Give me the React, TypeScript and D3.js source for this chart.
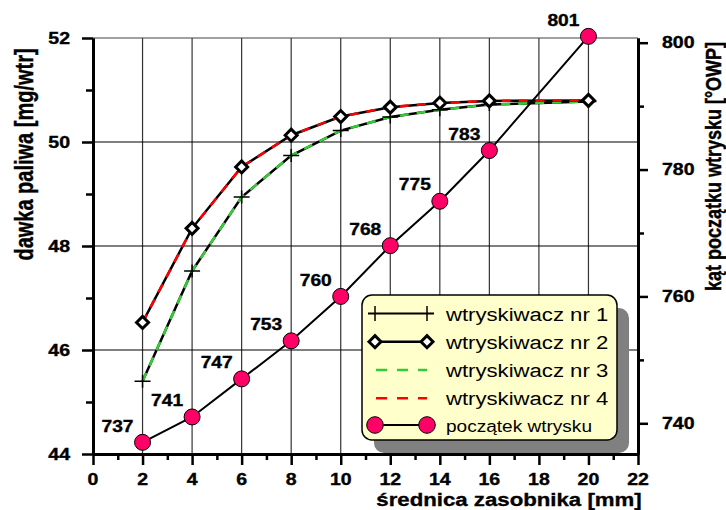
import React, { useEffect, useRef } from "react";
import * as d3 from "d3";

// średnica zasobnika [mm]
const diameters = [2, 4, 6, 8, 10, 12, 14, 16, 20];
// dawka paliwa [mg/wtr]
const injector1 = [45.4, 47.52, 48.94, 49.74, 50.22, 50.48, 50.62, 50.72, 50.78];
const injector2 = [46.53, 48.34, 49.52, 50.13, 50.49, 50.67, 50.75, 50.79, 50.8];
const injector3 = [45.4, 47.52, 48.94, 49.74, 50.22, 50.48, 50.62, 50.72, 50.78];
const injector4 = [46.53, 48.34, 49.52, 50.13, 50.49, 50.67, 50.75, 50.79, 50.8];
// kąt początku wtrysku [°OWP]
const startAngle = [737, 741, 747, 753, 760, 768, 775, 783, 801];

const xTicks = d3.range(0, 23, 2);
const xMinor = d3.range(1, 22, 2);
const yLeftTicks = [44, 46, 48, 50, 52];
const yLeftMinor = [45, 47, 49, 51];
const yRightTicks = [740, 760, 780, 800];
const yRightMinor = [750, 770, 790];

const legendLabels = [
  "wtryskiwacz nr 1",
  "wtryskiwacz nr 2",
  "wtryskiwacz nr 3",
  "wtryskiwacz nr 4",
  "początek wtrysku",
];

const FONT = "Arial, 'Liberation Sans', sans-serif";

export default function App() {
  const svgRef = useRef<SVGSVGElement>(null);

  useEffect(() => {
    const svg = d3.select(svgRef.current);
    svg.selectChildren().remove();

    const x = d3.scaleLinear().domain([0, 22]).range([93, 638]);
    const yL = d3.scaleLinear().domain([44, 52]).range([454, 38]);
    const yR = d3.scaleLinear().domain([740, 800]).range([423.3, 42.7]);

    // stretched text, the original renders glyphs wider than they are tall
    const stext = (
      g: any,
      tx: number,
      ty: number,
      str: string,
      size: number,
      sx: number,
      anchor: string,
      weight = "bold",
      rot = false
    ) =>
      g
        .append("text")
        .attr(
          "transform",
          `translate(${tx},${ty}) scale(${sx},1)` + (rot ? " rotate(-90)" : "")
        )
        .attr("text-anchor", anchor)
        .attr("font-family", FONT)
        .attr("font-size", size)
        .attr("font-weight", weight)
        .attr("fill", "#000")
        .attr("stroke", weight === "bold" ? "#000" : "none")
        .attr("stroke-width", 0.35)
        .text(str);

    svg.append("rect").attr("width", 726).attr("height", 510).attr("fill", "#fff");

    // grid
    const grid = svg.append("g");
    grid
      .selectAll("line.v")
      .data(d3.range(2, 21, 2))
      .enter()
      .append("line")
      .attr("x1", (d) => x(d))
      .attr("x2", (d) => x(d))
      .attr("y1", yL(52))
      .attr("y2", yL(44))
      .attr("stroke", "#333")
      .attr("stroke-width", 1.2);
    grid
      .selectAll("line.h")
      .data([46, 48, 50, 52])
      .enter()
      .append("line")
      .attr("x1", x(0))
      .attr("x2", x(22))
      .attr("y1", (d) => yL(d))
      .attr("y2", (d) => yL(d))
      .attr("stroke", (d) => (d === 52 ? "#444" : "#000"))
      .attr("stroke-width", 1.2);

    // axes
    const axisStyle = (g: any, w: number) => {
      g.select(".domain").attr("stroke", "#000").attr("stroke-width", w);
      g.selectAll(".tick line").attr("stroke", "#000").attr("stroke-width", 2.5);
      g.selectAll(".tick text").remove();
    };

    svg
      .append("g")
      .attr("transform", `translate(0,${yL(44)})`)
      .call(d3.axisBottom(x).tickValues(xMinor).tickSize(6).tickSizeOuter(0).tickFormat(() => ""))
      .call((g: any) => axisStyle(g, 3));
    svg
      .append("g")
      .attr("transform", `translate(0,${yL(44)})`)
      .call(d3.axisBottom(x).tickValues(xTicks).tickSize(11).tickSizeOuter(0).tickFormat(() => ""))
      .call((g: any) => axisStyle(g, 3));

    svg
      .append("g")
      .attr("transform", `translate(${x(0)},0)`)
      .call(d3.axisLeft(yL).tickValues(yLeftMinor).tickSize(7).tickSizeOuter(0).tickFormat(() => ""))
      .call((g: any) => axisStyle(g, 3));
    svg
      .append("g")
      .attr("transform", `translate(${x(0)},0)`)
      .call(d3.axisLeft(yL).tickValues(yLeftTicks).tickSize(11).tickSizeOuter(0).tickFormat(() => ""))
      .call((g: any) => axisStyle(g, 3));

    const yRfull = yR.copy().domain([yR.invert(454), yR.invert(38)]).range([454, 38]);
    svg
      .append("g")
      .attr("transform", `translate(${x(22)},0)`)
      .call(d3.axisRight(yRfull).tickValues(yRightMinor).tickSize(6).tickSizeOuter(0).tickFormat(() => ""))
      .call((g: any) => axisStyle(g, 3));
    svg
      .append("g")
      .attr("transform", `translate(${x(22)},0)`)
      .call(d3.axisRight(yRfull).tickValues(yRightTicks).tickSize(10).tickSizeOuter(0).tickFormat(() => ""))
      .call((g: any) => axisStyle(g, 3));

    // tick labels
    xTicks.forEach((t) => stext(svg, x(t), 485, String(t), 16, 1.22, "middle"));
    yLeftTicks.forEach((t) => stext(svg, 70, yL(t) + 5.7, String(t), 16, 1.22, "end"));
    yRightTicks.forEach((t) => stext(svg, 662, yR(t) + 5.7, String(t), 16, 1.22, "start"));

    // titles
    stext(svg, 33, 154.5, "dawka paliwa [mg/wtr]", 20, 1.25, "middle", "bold", true);
    stext(svg, 721, 166.5, "kąt początku wtrysku [°OWP]", 18, 1.25, "middle", "bold", true);
    stext(svg, 509, 506, "średnica zasobnika [mm]", 19, 1.17, "middle");

    // series
    const lineL = (vals: number[]) =>
      d3
        .line<number>()
        .x((_, i) => x(diameters[i]))
        .y((d) => yL(d))(vals);

    const plot = svg.append("g");

    plot
      .append("path")
      .attr("d", lineL(injector1))
      .attr("fill", "none")
      .attr("stroke", "#000")
      .attr("stroke-width", 2.5);
    plot
      .append("path")
      .attr("d", lineL(injector3))
      .attr("fill", "none")
      .attr("stroke", "#33cc33")
      .attr("stroke-width", 2.5)
      .attr("stroke-dasharray", "9,8");
    plot
      .selectAll("path.plus")
      .data(injector1)
      .enter()
      .append("path")
      .attr(
        "d",
        (d, i) =>
          `M${x(diameters[i]) - 8},${yL(d)}h16M${x(diameters[i])},${yL(d) - 6.5}v13`
      )
      .attr("stroke", "#000")
      .attr("stroke-width", 1.5);

    plot
      .append("path")
      .attr("d", lineL(injector2))
      .attr("fill", "none")
      .attr("stroke", "#000")
      .attr("stroke-width", 2.5);
    plot
      .append("path")
      .attr("d", lineL(injector4))
      .attr("fill", "none")
      .attr("stroke", "#ff0000")
      .attr("stroke-width", 2.5)
      .attr("stroke-dasharray", "9,8");
    plot
      .selectAll("path.diamond")
      .data(injector2)
      .enter()
      .append("path")
      .attr("d", (d, i) => {
        const cx = x(diameters[i]),
          cy = yL(d);
        return `M${cx - 6},${cy}L${cx},${cy - 6}L${cx + 6},${cy}L${cx},${cy + 6}Z`;
      })
      .attr("fill", "#fff")
      .attr("stroke", "#000")
      .attr("stroke-width", 3);

    // początek wtrysku
    plot
      .append("path")
      .attr(
        "d",
        d3
          .line<number>()
          .x((_, i) => x(diameters[i]))
          .y((d) => yR(d))(startAngle)
      )
      .attr("fill", "none")
      .attr("stroke", "#000")
      .attr("stroke-width", 2);
    plot
      .selectAll("circle")
      .data(startAngle)
      .enter()
      .append("circle")
      .attr("cx", (_, i) => x(diameters[i]))
      .attr("cy", (d) => yR(d))
      .attr("r", 8)
      .attr("fill", "#ff0066")
      .attr("stroke", "#000")
      .attr("stroke-width", 1);
    startAngle.forEach((v, i) =>
      stext(plot, x(diameters[i]) - 25, yR(v) - 16.5 + 5.7, String(v), 16, 1.2, "middle")
    );

    // legend
    const lg = svg.append("g");
    lg.append("rect")
      .attr("x", 374)
      .attr("y", 308)
      .attr("width", 255)
      .attr("height", 145)
      .attr("rx", 10)
      .attr("fill", "#808080");
    lg.append("rect")
      .attr("x", 362)
      .attr("y", 295)
      .attr("width", 255)
      .attr("height", 145)
      .attr("rx", 10)
      .attr("fill", "#ffffcc")
      .attr("stroke", "#000")
      .attr("stroke-width", 1.5);

    const rows = [313.5, 341.7, 370, 398.2, 425];
    const lx1 = 375,
      lx2 = 427;

    // row 1
    lg.append("line")
      .attr("x1", 368).attr("x2", 434)
      .attr("y1", rows[0]).attr("y2", rows[0])
      .attr("stroke", "#000").attr("stroke-width", 2);
    [lx1, lx2].forEach((cx) =>
      lg.append("path")
        .attr("d", `M${cx},${rows[0] - 7.5}v15`)
        .attr("stroke", "#000").attr("stroke-width", 1.5)
    );
    // row 2
    lg.append("line")
      .attr("x1", lx1).attr("x2", lx2)
      .attr("y1", rows[1]).attr("y2", rows[1])
      .attr("stroke", "#000").attr("stroke-width", 2.5);
    [lx1, lx2].forEach((cx) =>
      lg.append("path")
        .attr("d", `M${cx - 6},${rows[1]}L${cx},${rows[1] - 6}L${cx + 6},${rows[1]}L${cx},${rows[1] + 6}Z`)
        .attr("fill", "#fff").attr("stroke", "#000").attr("stroke-width", 3)
    );
    // rows 3, 4
    [
      ["#33cc33", rows[2]],
      ["#ff0000", rows[3]],
    ].forEach(([c, ry]) =>
      lg.append("line")
        .attr("x1", 376).attr("x2", 427)
        .attr("y1", ry).attr("y2", ry)
        .attr("stroke", c as string).attr("stroke-width", 2.5)
        .attr("stroke-dasharray", "11,10")
    );
    // row 5
    lg.append("line")
      .attr("x1", lx1).attr("x2", lx2)
      .attr("y1", rows[4]).attr("y2", rows[4])
      .attr("stroke", "#000").attr("stroke-width", 2);
    [lx1, lx2].forEach((cx) =>
      lg.append("circle")
        .attr("cx", cx).attr("cy", rows[4]).attr("r", 8.3)
        .attr("fill", "#ff0066").attr("stroke", "#000").attr("stroke-width", 1)
    );

    legendLabels.forEach((t, i) => {
      if (i < 4) stext(lg, 446, rows[i] + 7, t, 18, 1.23, "start", "normal");
      else stext(lg, 446, rows[i] + 6.5, t, 16, 1.19, "start", "normal");
    });
  }, []);

  return (
    <div style={{ position: "absolute", left: 0, top: 0 }}>
      <svg ref={svgRef} width={726} height={510} style={{ display: "block" }} />
    </div>
  );
}
